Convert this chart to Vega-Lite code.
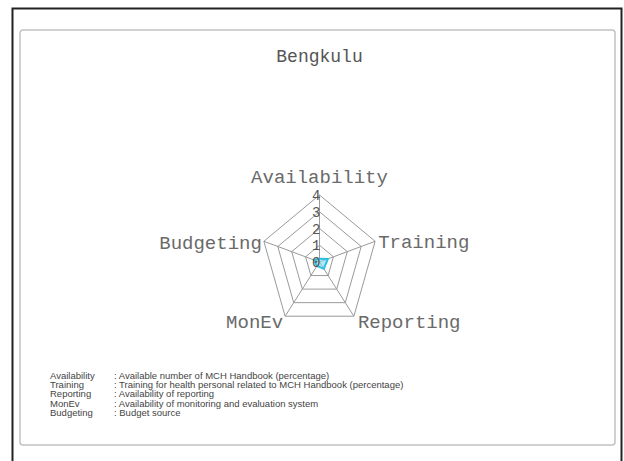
{
  "$schema": "https://vega.github.io/schema/vega-lite/v6.json",
  "width": 624,
  "height": 461,
  "autosize": "none",
  "padding": 0,
  "background": "white",
  "config": {"view": {"stroke": null}, "font": "Liberation Mono"},
  "datasets": {
    "radar": [
      {"axis": "Availability", "k": 0, "value": 0.2},
      {"axis": "Training", "k": 1, "value": 0.6},
      {"axis": "Reporting", "k": 2, "value": 0.5},
      {"axis": "MonEv", "k": 3, "value": 0.3},
      {"axis": "Budgeting", "k": 4, "value": 0.4},
      {"axis": "Availability", "k": 5, "value": 0.2}
    ],
    "grid": [
      {"level": 1, "k": 0}, {"level": 1, "k": 1}, {"level": 1, "k": 2}, {"level": 1, "k": 3}, {"level": 1, "k": 4}, {"level": 1, "k": 5},
      {"level": 2, "k": 0}, {"level": 2, "k": 1}, {"level": 2, "k": 2}, {"level": 2, "k": 3}, {"level": 2, "k": 4}, {"level": 2, "k": 5},
      {"level": 3, "k": 0}, {"level": 3, "k": 1}, {"level": 3, "k": 2}, {"level": 3, "k": 3}, {"level": 3, "k": 4}, {"level": 3, "k": 5},
      {"level": 4, "k": 0}, {"level": 4, "k": 1}, {"level": 4, "k": 2}, {"level": 4, "k": 3}, {"level": 4, "k": 4}, {"level": 4, "k": 5}
    ],
    "ticks": [
      {"lab": "0", "level": 0}, {"lab": "1", "level": 1}, {"lab": "2", "level": 2}, {"lab": "3", "level": 3}, {"lab": "4", "level": 4}
    ],
    "legend": [
      {
        "terms": ["Availability", "Training", "Reporting", "MonEv", "Budgeting"],
        "descs": [": Available number of MCH Handbook (percentage)", ": Training for health personal related to MCH Handbook (percentage)", ": Availability of reporting", ": Availability of monitoring and evaluation system", ": Budget source"]
      }
    ]
  },
  "layer": [
    {
      "data": {"values": [{"name": "outer"}]},
      "mark": {"type": "rect", "fill": null, "stroke": "#222222", "strokeWidth": 2},
      "encoding": {
        "x": {"datum": -5.2479, "type": "quantitative", "scale": {"domain": [-5.4615, 5.2051], "nice": false, "zero": false}, "axis": null},
        "x2": {"datum": 5.1624},
        "y": {"datum": 3.7836, "type": "quantitative", "scale": {"domain": [-2.9701, 3.9104], "nice": false, "zero": false}, "axis": null},
        "y2": {"datum": -3.3}
      }
    },
    {
      "data": {"values": [{"name": "inner"}]},
      "mark": {"type": "rect", "fill": null, "stroke": "#c2c2c2", "strokeWidth": 1.5, "cornerRadius": 3},
      "encoding": {
        "x": {"datum": -5.1197, "type": "quantitative", "scale": {"domain": [-5.4615, 5.2051], "nice": false, "zero": false}, "axis": null},
        "x2": {"datum": 5.0513},
        "y": {"datum": 3.4627, "type": "quantitative", "scale": {"domain": [-2.9701, 3.9104], "nice": false, "zero": false}, "axis": null},
        "y2": {"datum": -2.7313}
      }
    },
    {
      "data": {"values": [{"title": "Bengkulu"}]},
      "mark": {"type": "text", "font": "Liberation Mono", "fontSize": 18, "color": "#555555", "align": "center", "baseline": "middle"},
      "encoding": {
        "x": {"datum": 0, "type": "quantitative", "scale": {"domain": [-5.4615, 5.2051], "nice": false, "zero": false}, "axis": null},
        "y": {"datum": 3.0597, "type": "quantitative", "scale": {"domain": [-2.9701, 3.9104], "nice": false, "zero": false}, "axis": null},
        "text": {"field": "title", "type": "nominal"}
      }
    },
    {
      "data": {"name": "grid"},
      "transform": [
        {"calculate": "PI/2 - datum.k*2*PI/5", "as": "ang"},
        {"calculate": "datum.level/4*cos(datum.ang)", "as": "gx"},
        {"calculate": "datum.level/4*sin(datum.ang)", "as": "gy"}
      ],
      "mark": {"type": "line", "stroke": "#9a9a9a", "strokeWidth": 1},
      "encoding": {
        "x": {"field": "gx", "type": "quantitative", "scale": {"domain": [-5.4615, 5.2051], "nice": false, "zero": false}, "axis": null},
        "y": {"field": "gy", "type": "quantitative", "scale": {"domain": [-2.9701, 3.9104], "nice": false, "zero": false}, "axis": null},
        "detail": {"field": "level", "type": "nominal"},
        "order": {"field": "k", "type": "quantitative"}
      }
    },
    {
      "data": {"name": "radar"},
      "transform": [
        {"filter": "datum.k < 5"},
        {"calculate": "PI/2 - datum.k*2*PI/5", "as": "ang"},
        {"calculate": "cos(datum.ang)", "as": "ox"},
        {"calculate": "sin(datum.ang)", "as": "oy"},
        {"calculate": "0", "as": "cx"},
        {"calculate": "0", "as": "cy"}
      ],
      "mark": {"type": "rule", "stroke": "#9a9a9a", "strokeWidth": 1},
      "encoding": {
        "x": {"field": "cx", "type": "quantitative", "scale": {"domain": [-5.4615, 5.2051], "nice": false, "zero": false}, "axis": null},
        "y": {"field": "cy", "type": "quantitative", "scale": {"domain": [-2.9701, 3.9104], "nice": false, "zero": false}, "axis": null},
        "x2": {"field": "ox"},
        "y2": {"field": "oy"}
      }
    },
    {
      "data": {"name": "radar"},
      "transform": [
        {"calculate": "PI/2 - datum.k*2*PI/5", "as": "ang"},
        {"calculate": "datum.value/4*cos(datum.ang)", "as": "px"},
        {"calculate": "datum.value/4*sin(datum.ang)", "as": "py"}
      ],
      "mark": {"type": "line", "stroke": "#2bbfe0", "strokeWidth": 2, "fill": "#7fdcf2", "fillOpacity": 0.6},
      "encoding": {
        "x": {"field": "px", "type": "quantitative", "scale": {"domain": [-5.4615, 5.2051], "nice": false, "zero": false}, "axis": null},
        "y": {"field": "py", "type": "quantitative", "scale": {"domain": [-2.9701, 3.9104], "nice": false, "zero": false}, "axis": null},
        "order": {"field": "k", "type": "quantitative"}
      }
    },
    {
      "data": {"name": "ticks"},
      "transform": [
        {"calculate": "datum.level/4", "as": "ty"},
        {"calculate": "0", "as": "tx"}
      ],
      "mark": {"type": "text", "font": "Liberation Mono", "fontSize": 14, "color": "#555555", "align": "right", "baseline": "middle", "dx": 1, "dy": 1},
      "encoding": {
        "x": {"field": "tx", "type": "quantitative", "scale": {"domain": [-5.4615, 5.2051], "nice": false, "zero": false}, "axis": null},
        "y": {"field": "ty", "type": "quantitative", "scale": {"domain": [-2.9701, 3.9104], "nice": false, "zero": false}, "axis": null},
        "text": {"field": "lab", "type": "nominal"}
      }
    },
    {
      "data": {"name": "radar"},
      "transform": [
        {"filter": "datum.k == 0"},
        {"calculate": "PI/2 - datum.k*2*PI/5", "as": "ang"},
        {"calculate": "cos(datum.ang)", "as": "ox"},
        {"calculate": "sin(datum.ang)", "as": "oy"}
      ],
      "mark": {"type": "text", "font": "Liberation Mono", "fontSize": 19, "color": "#6a6a6a", "align": "center", "baseline": "alphabetic", "dy": -12},
      "encoding": {
        "x": {"field": "ox", "type": "quantitative", "scale": {"domain": [-5.4615, 5.2051], "nice": false, "zero": false}, "axis": null},
        "y": {"field": "oy", "type": "quantitative", "scale": {"domain": [-2.9701, 3.9104], "nice": false, "zero": false}, "axis": null},
        "text": {"field": "axis", "type": "nominal"}
      }
    },
    {
      "data": {"name": "radar"},
      "transform": [
        {"filter": "datum.k == 1"},
        {"calculate": "PI/2 - datum.k*2*PI/5", "as": "ang"},
        {"calculate": "cos(datum.ang)", "as": "ox"},
        {"calculate": "sin(datum.ang)", "as": "oy"}
      ],
      "mark": {"type": "text", "font": "Liberation Mono", "fontSize": 19, "color": "#6a6a6a", "align": "left", "baseline": "middle", "dx": 3, "dy": 1},
      "encoding": {
        "x": {"field": "ox", "type": "quantitative", "scale": {"domain": [-5.4615, 5.2051], "nice": false, "zero": false}, "axis": null},
        "y": {"field": "oy", "type": "quantitative", "scale": {"domain": [-2.9701, 3.9104], "nice": false, "zero": false}, "axis": null},
        "text": {"field": "axis", "type": "nominal"}
      }
    },
    {
      "data": {"name": "radar"},
      "transform": [
        {"filter": "datum.k == 2"},
        {"calculate": "PI/2 - datum.k*2*PI/5", "as": "ang"},
        {"calculate": "cos(datum.ang)", "as": "ox"},
        {"calculate": "sin(datum.ang)", "as": "oy"}
      ],
      "mark": {"type": "text", "font": "Liberation Mono", "fontSize": 19, "color": "#6a6a6a", "align": "left", "baseline": "middle", "dx": 4, "dy": 6},
      "encoding": {
        "x": {"field": "ox", "type": "quantitative", "scale": {"domain": [-5.4615, 5.2051], "nice": false, "zero": false}, "axis": null},
        "y": {"field": "oy", "type": "quantitative", "scale": {"domain": [-2.9701, 3.9104], "nice": false, "zero": false}, "axis": null},
        "text": {"field": "axis", "type": "nominal"}
      }
    },
    {
      "data": {"name": "radar"},
      "transform": [
        {"filter": "datum.k == 3"},
        {"calculate": "PI/2 - datum.k*2*PI/5", "as": "ang"},
        {"calculate": "cos(datum.ang)", "as": "ox"},
        {"calculate": "sin(datum.ang)", "as": "oy"}
      ],
      "mark": {"type": "text", "font": "Liberation Mono", "fontSize": 19, "color": "#6a6a6a", "align": "right", "baseline": "middle", "dx": -2, "dy": 6},
      "encoding": {
        "x": {"field": "ox", "type": "quantitative", "scale": {"domain": [-5.4615, 5.2051], "nice": false, "zero": false}, "axis": null},
        "y": {"field": "oy", "type": "quantitative", "scale": {"domain": [-2.9701, 3.9104], "nice": false, "zero": false}, "axis": null},
        "text": {"field": "axis", "type": "nominal"}
      }
    },
    {
      "data": {"name": "radar"},
      "transform": [
        {"filter": "datum.k == 4"},
        {"calculate": "PI/2 - datum.k*2*PI/5", "as": "ang"},
        {"calculate": "cos(datum.ang)", "as": "ox"},
        {"calculate": "sin(datum.ang)", "as": "oy"}
      ],
      "mark": {"type": "text", "font": "Liberation Mono", "fontSize": 19, "color": "#6a6a6a", "align": "right", "baseline": "middle", "dx": -2, "dy": 2},
      "encoding": {
        "x": {"field": "ox", "type": "quantitative", "scale": {"domain": [-5.4615, 5.2051], "nice": false, "zero": false}, "axis": null},
        "y": {"field": "oy", "type": "quantitative", "scale": {"domain": [-2.9701, 3.9104], "nice": false, "zero": false}, "axis": null},
        "text": {"field": "axis", "type": "nominal"}
      }
    },
    {
      "data": {"name": "legend"},
      "transform": [
        {"calculate": "-4.6068", "as": "lx"},
        {"calculate": "-1.6269", "as": "ly"}
      ],
      "mark": {"type": "text", "font": "Liberation Sans", "fontSize": 9.5, "lineHeight": 9.2, "color": "#444444", "align": "left", "baseline": "top"},
      "encoding": {
        "x": {"field": "lx", "type": "quantitative", "scale": {"domain": [-5.4615, 5.2051], "nice": false, "zero": false}, "axis": null},
        "y": {"field": "ly", "type": "quantitative", "scale": {"domain": [-2.9701, 3.9104], "nice": false, "zero": false}, "axis": null},
        "text": {"field": "terms", "type": "nominal"}
      }
    },
    {
      "data": {"name": "legend"},
      "transform": [
        {"calculate": "-3.5128", "as": "lx"},
        {"calculate": "-1.6269", "as": "ly"}
      ],
      "mark": {"type": "text", "font": "Liberation Sans", "fontSize": 9.5, "lineHeight": 9.2, "color": "#444444", "align": "left", "baseline": "top"},
      "encoding": {
        "x": {"field": "lx", "type": "quantitative", "scale": {"domain": [-5.4615, 5.2051], "nice": false, "zero": false}, "axis": null},
        "y": {"field": "ly", "type": "quantitative", "scale": {"domain": [-2.9701, 3.9104], "nice": false, "zero": false}, "axis": null},
        "text": {"field": "descs", "type": "nominal"}
      }
    }
  ]
}
